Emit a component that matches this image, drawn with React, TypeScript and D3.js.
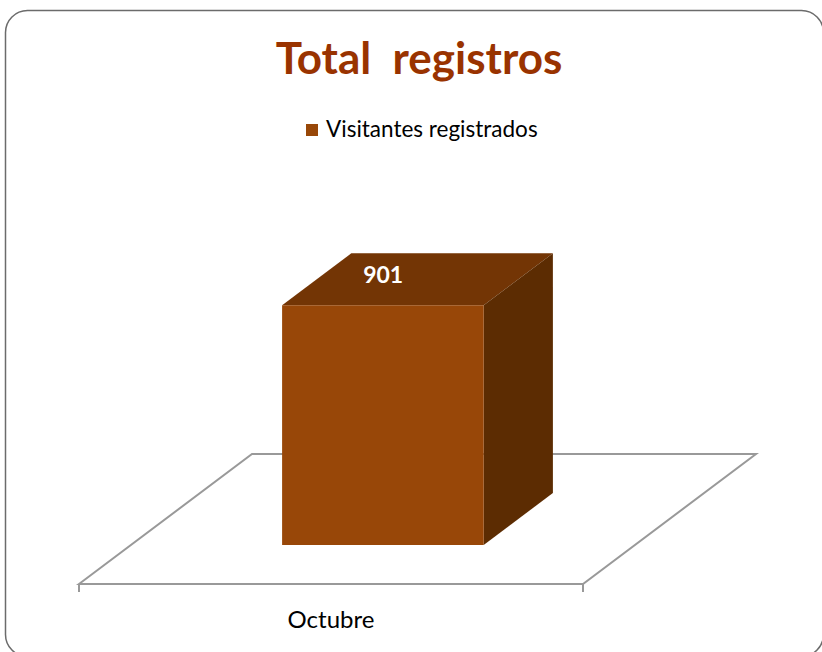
import { useEffect, useRef } from 'react';
import * as d3 from 'd3';

const categories = ['Octubre'];
const seriesName = 'Visitantes registrados';
const values = [901];
const chartTitle = 'Total  registros';

const W = 822;
const H = 652;

export default function App() {
  const svgRef = useRef<SVGSVGElement>(null);

  useEffect(() => {
    const svg = d3.select(svgRef.current);
    svg.selectAll('*').remove();

    const font = 'Lato, "Open Sans", sans-serif';
    const frontColor = '#984708';
    const topColor = '#733505';
    const sideColor = '#5c2c02';

    // outer frame
    svg.append('rect')
      .attr('x', 5.5).attr('y', 10.5)
      .attr('width', 818).attr('height', 646)
      .attr('rx', 22)
      .attr('fill', '#fff')
      .attr('stroke', '#6b6b6b')
      .attr('stroke-width', 1.5);

    // title
    svg.append('text')
      .attr('x', 419).attr('y', 74)
      .attr('text-anchor', 'middle')
      .attr('fill', '#993300')
      .style('font-family', font)
      .style('font-size', '44px')
      .style('font-weight', 'bold')
      .style('white-space', 'pre')
      .text(chartTitle);

    // legend
    const lg = svg.append('g').attr('transform', 'translate(306,124)');
    lg.append('rect').attr('width', 12).attr('height', 12).attr('fill', frontColor);
    lg.append('text')
      .attr('x', 20).attr('y', 13)
      .attr('fill', '#000')
      .style('font-family', font)
      .style('font-size', '22.5px')
      .text(seriesName);

    // 3d projection: floor front edge at y=584, depth goes up-right
    const floorY = 584;
    const depthDy = 130;
    const depthDx = 173;
    const proj = (x: number, yPix: number, t: number): [number, number] =>
      [x + depthDx * t, yPix - depthDy * t];

    const xScale = d3.scaleBand<string>()
      .domain(categories)
      .range([79, 583])
      .paddingInner(0)
      .paddingOuter(0.75);

    const yScale = d3.scaleLinear()
      .domain([0, 1000])
      .range([0, 266]);

    const line = d3.line();

    // floor
    const x0 = 79, x1 = 583;
    svg.append('path')
      .attr('d', line([proj(x0, floorY, 0), proj(x0, floorY, 1), proj(x1, floorY, 1), proj(x1, floorY, 0)])! + 'Z')
      .attr('fill', 'none')
      .attr('stroke', '#999')
      .attr('stroke-width', 2);

    // ticks
    [x0, x1].forEach(x => {
      svg.append('line')
        .attr('x1', x).attr('x2', x)
        .attr('y1', floorY).attr('y2', floorY + 8)
        .attr('stroke', '#999')
        .attr('stroke-width', 2);
    });

    // category labels
    categories.forEach(c => {
      svg.append('text')
        .attr('x', xScale(c)! + xScale.bandwidth() / 2)
        .attr('y', 628)
        .attr('text-anchor', 'middle')
        .attr('fill', '#000')
        .style('font-family', font)
        .style('font-size', '24px')
        .text(c);
    });

    // bars
    const tFront = 0.3, tBack = 0.7;
    categories.forEach((c, i) => {
      const bx0 = xScale(c)!;
      const bx1 = bx0 + xScale.bandwidth();
      const h = yScale(values[i]);
      const yb = floorY;
      const yt = floorY - h;
      const g = svg.append('g');

      const poly = (pts: [number, number][], fill: string) =>
        g.append('path').attr('d', line(pts)! + 'Z').attr('fill', fill);

      // top
      poly([proj(bx0, yt, tFront), proj(bx0, yt, tBack), proj(bx1, yt, tBack), proj(bx1, yt, tFront)], topColor);
      // side
      poly([proj(bx1, yt, tFront), proj(bx1, yt, tBack), proj(bx1, yb, tBack), proj(bx1, yb, tFront)], sideColor);
      // front
      poly([proj(bx0, yt, tFront), proj(bx1, yt, tFront), proj(bx1, yb, tFront), proj(bx0, yb, tFront)], frontColor);

      // data label on top face
      const [lx, ly] = proj((bx0 + bx1) / 2 - 43, yt, (tFront + tBack) / 2 + 0.05);
      g.append('text')
        .attr('x', lx).attr('y', ly + 10)
        .attr('text-anchor', 'middle')
        .attr('fill', '#fff')
        .style('font-family', font)
        .style('font-size', '23px')
        .style('font-weight', 'bold')
        .text(String(values[i]));
    });
  }, []);

  return (
    <svg
      ref={svgRef}
      width={W}
      height={H}
      style={{ position: 'absolute', left: 0, top: 0 }}
    />
  );
}
